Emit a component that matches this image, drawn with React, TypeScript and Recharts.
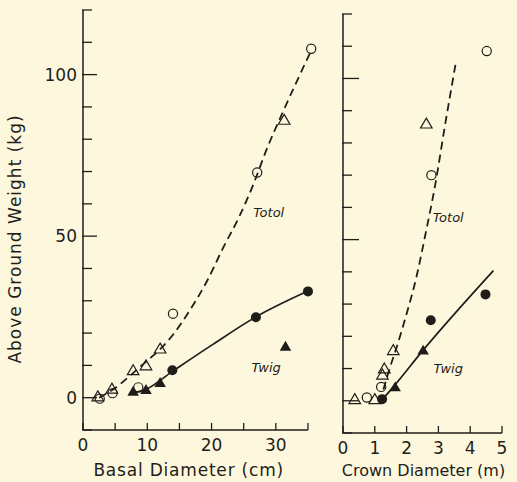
import {
  ComposedChart,
  XAxis,
  YAxis,
  Scatter,
  Line,
  ReferenceDot,
  ReferenceLine,
} from 'recharts';

const INK = '#1f1d1a';
const BG = '#fdf8dd';
const FONT = '"DejaVu Sans", sans-serif';

// shared weight axis (kg)
const weightTicks = [-10, 0, 10, 20, 30, 40, 50, 60, 70, 80, 90, 100, 110, 120];
const weightLabels = [0, 50, 100];

const basalTicks = [0, 5, 10, 15, 20, 25, 30, 35];
const basalLabels = [0, 10, 20, 30];
const crownTicks = [0, 1, 2, 3, 4, 5];
const crownLabels = [0, 1, 2, 3, 4, 5];

// basal diameter (cm) vs weight (kg)
const basalTotalCircles = [
  { x: 2.6, y: -0.3 },
  { x: 4.6, y: 1.4 },
  { x: 8.6, y: 3.2 },
  { x: 14.0, y: 26 },
  { x: 27.1, y: 69.7 },
  { x: 35.5, y: 108 },
];
const basalTotalTriangles = [
  { x: 2.3, y: 0.4 },
  { x: 4.5, y: 2.8 },
  { x: 7.8, y: 8.5 },
  { x: 9.8, y: 10 },
  { x: 12.0, y: 15.2 },
  { x: 31.3, y: 86 },
];
const basalTwigCircles = [
  { x: 13.9, y: 8.5 },
  { x: 26.9, y: 24.9 },
  { x: 35.0, y: 32.9 },
];
const basalTwigTriangles = [
  { x: 7.8, y: 2 },
  { x: 9.8, y: 2.5 },
  { x: 12.0, y: 4.7 },
  { x: 31.5, y: 15.9 },
];
const basalTotalCurve = [
  { x: 2.5, y: 0 },
  { x: 5, y: 3 },
  { x: 8, y: 8 },
  { x: 10, y: 11.5 },
  { x: 12, y: 15 },
  { x: 14, y: 19.5 },
  { x: 16.6, y: 27 },
  { x: 19.4, y: 36.5 },
  { x: 21.7, y: 46 },
  { x: 24.3, y: 56 },
  { x: 26.6, y: 66.5 },
  { x: 28.4, y: 76 },
  { x: 31, y: 88 },
  { x: 35.4, y: 107 },
];
const basalTwigCurve = [
  { x: 7.8, y: 1.5 },
  { x: 9.7, y: 2.5 },
  { x: 13.8, y: 8 },
  { x: 20.2, y: 16.5 },
  { x: 26.9, y: 25 },
  { x: 35, y: 33 },
];

// crown diameter (m) vs weight (kg)
const crownTotalCircles = [
  { x: 0.75, y: 1 },
  { x: 1.2, y: 4.3 },
  { x: 2.78, y: 70 },
  { x: 4.52, y: 108.5 },
];
const crownTotalTriangles = [
  { x: 0.37, y: 0.5 },
  { x: 1.0, y: 0.5 },
  { x: 1.24, y: 8.1 },
  { x: 1.3, y: 10 },
  { x: 1.58, y: 15.7 },
  { x: 2.62, y: 86 },
];
const crownTwigCircles = [
  { x: 1.23, y: 0.5 },
  { x: 2.76, y: 25 },
  { x: 4.48, y: 33 },
];
const crownTwigTriangles = [
  { x: 1.64, y: 4.3 },
  { x: 2.52, y: 15.7 },
];
const crownTotalCurve = [
  { x: 1.27, y: 3.5 },
  { x: 1.45, y: 9.5 },
  { x: 1.7, y: 17 },
  { x: 2.0, y: 27 },
  { x: 2.3, y: 38 },
  { x: 2.6, y: 52 },
  { x: 2.9, y: 67 },
  { x: 3.2, y: 85 },
  { x: 3.55, y: 105 },
];
const crownTwigCurve = [
  { x: 1.25, y: 0.5 },
  { x: 1.64, y: 5 },
  { x: 2.52, y: 15.7 },
  { x: 4.73, y: 40.4 },
];

const OpenCircle = (p: any) => (
  <circle cx={p.cx} cy={p.cy} r={4.6} fill="none" stroke={INK} strokeWidth={1.2} />
);
const FilledCircle = (p: any) => <circle cx={p.cx} cy={p.cy} r={5} fill={INK} />;
const tri = (cx: number, cy: number, s: number) =>
  `M${cx},${cy - s} L${cx + s * 1.05},${cy + s * 0.8} L${cx - s * 1.05},${cy + s * 0.8} Z`;
const OpenTriangle = (p: any) => (
  <path d={tri(p.cx, p.cy, 5.5)} fill="none" stroke={INK} strokeWidth={1.2} />
);
const FilledTriangle = (p: any) => <path d={tri(p.cx, p.cy, 5.5)} fill={INK} />;

const Note = (text: string) => (p: any) => (
  <text
    x={p.cx}
    y={p.cy}
    textAnchor="middle"
    dominantBaseline="central"
    fontFamily={FONT}
    fontStyle="italic"
    fontSize={13}
    fill={INK}
  >
    {text}
  </text>
);

const weightTick = (labelled: boolean, majorLen: number) => (p: any) => {
  const v = p.payload.value;
  const major = weightLabels.includes(v);
  return (
    <g>
      <line x1={p.x - 1} x2={p.x + (major ? majorLen : 9)} y1={p.y} y2={p.y} stroke={INK} strokeWidth={1.3} />
      {labelled && major && (
        <text x={p.x - 6} y={p.y + 6} textAnchor="end" fontFamily={FONT} fontSize={17} fill={INK}>
          {v}
        </text>
      )}
    </g>
  );
};

const diamTick = (labels: number[]) => (p: any) => {
  const v = p.payload.value;
  return (
    <g>
      <line x1={p.x} x2={p.x} y1={p.y} y2={p.y - 7} stroke={INK} strokeWidth={1.3} />
      {labels.includes(v) && (
        <text x={p.x} y={p.y + 21} textAnchor="middle" fontFamily={FONT} fontSize={17} fill={INK}>
          {v}
        </text>
      )}
    </g>
  );
};

const axisTitle = (text: string, dx: number, dy: number, size: number, spacing: number) => (p: any) => {
  const vb = p.viewBox || { x: 0, y: 0, width: 0, height: 0 };
  return (
    <text
      x={vb.x + vb.width / 2 + dx}
      y={vb.y + dy}
      textAnchor="middle"
      fontFamily={FONT}
      fontSize={size}
      letterSpacing={spacing}
      fill={INK}
    >
      {text}
    </text>
  );
};

const weightTitle = (p: any) => {
  const vb = p.viewBox || { x: 0, y: 0, width: 0, height: 0 };
  const cx = vb.x + 15;
  const cy = vb.y + vb.height / 2 + 19;
  return (
    <text
      x={cx}
      y={cy}
      transform={`rotate(-90, ${cx}, ${cy})`}
      textAnchor="middle"
      dominantBaseline="central"
      fontFamily={FONT}
      fontSize={17}
      letterSpacing={1}
      fill={INK}
    >
      Above Ground Weight (kg)
    </text>
  );
};

export default function App() {
  return (
    <div style={{ position: 'absolute', left: 0, top: 0, width: 517, height: 482, background: BG }}>
      <div style={{ position: 'absolute', left: 0, top: 0 }}>
        <ComposedChart width={330} height={482} margin={{ top: 10, right: 15.6, bottom: 0, left: 0 }}>
          <XAxis
            type="number"
            dataKey="x"
            domain={[0, 36]}
            ticks={basalTicks}
            height={52}
            axisLine={false}
            tickLine={false}
            tickSize={0}
            tickMargin={0}
            tick={diamTick(basalLabels)}
            label={{ content: axisTitle('Basal Diameter (cm)', -10, 46, 17, 0.8) }}
          />
          <YAxis
            type="number"
            dataKey="y"
            domain={[-10, 120]}
            ticks={weightTicks}
            width={83}
            axisLine={{ stroke: INK, strokeWidth: 1.5 }}
            tickLine={false}
            tickSize={0}
            tickMargin={0}
            tick={weightTick(true, 14)}
            label={{ content: weightTitle }}
          />
          <ReferenceLine
            segment={[{ x: 0, y: -10 }, { x: 35, y: -10 }]}
            stroke={INK}
            strokeWidth={1.5}
          />
          <Line data={basalTotalCurve} dataKey="y" type="monotone" stroke={INK} strokeWidth={1.8} strokeDasharray="8 5" dot={false} isAnimationActive={false} />
          <Line data={basalTwigCurve} dataKey="y" type="monotone" stroke={INK} strokeWidth={1.7} dot={false} isAnimationActive={false} />
          <Scatter data={basalTotalCircles} shape={OpenCircle} isAnimationActive={false} />
          <Scatter data={basalTotalTriangles} shape={OpenTriangle} isAnimationActive={false} />
          <Scatter data={basalTwigCircles} shape={FilledCircle} isAnimationActive={false} />
          <Scatter data={basalTwigTriangles} shape={FilledTriangle} isAnimationActive={false} />
          <ReferenceDot x={28.9} y={57.3} r={0} shape={Note('Totol')} />
          <ReferenceDot x={28.5} y={9.3} r={0} shape={Note('Twig')} />
        </ComposedChart>
      </div>
      <div style={{ position: 'absolute', left: 330, top: 0 }}>
        <ComposedChart width={187} height={482} margin={{ top: 14, right: 15, bottom: 0, left: 0 }}>
          <XAxis
            type="number"
            dataKey="x"
            domain={[0, 5]}
            ticks={crownTicks}
            height={49}
            axisLine={{ stroke: INK, strokeWidth: 1.5 }}
            tickLine={false}
            tickSize={0}
            tickMargin={0}
            tick={diamTick(crownLabels)}
            label={{ content: axisTitle('Crown Diameter (m)', 1, 43, 16, 0) }}
          />
          <YAxis
            type="number"
            dataKey="y"
            domain={[-10, 120]}
            ticks={weightTicks}
            width={13}
            axisLine={{ stroke: INK, strokeWidth: 1.5 }}
            tickLine={false}
            tickSize={0}
            tickMargin={0}
            tick={weightTick(false, 16)}
          />
          <Line data={crownTotalCurve} dataKey="y" type="monotone" stroke={INK} strokeWidth={1.8} strokeDasharray="8 5" dot={false} isAnimationActive={false} />
          <Line data={crownTwigCurve} dataKey="y" type="monotone" stroke={INK} strokeWidth={1.7} dot={false} isAnimationActive={false} />
          <Scatter data={crownTotalCircles} shape={OpenCircle} isAnimationActive={false} />
          <Scatter data={crownTotalTriangles} shape={OpenTriangle} isAnimationActive={false} />
          <Scatter data={crownTwigCircles} shape={FilledCircle} isAnimationActive={false} />
          <Scatter data={crownTwigTriangles} shape={FilledTriangle} isAnimationActive={false} />
          <ReferenceDot x={3.31} y={56.9} r={0} shape={Note('Totol')} />
          <ReferenceDot x={3.31} y={9.9} r={0} shape={Note('Twig')} />
        </ComposedChart>
      </div>
    </div>
  );
}
